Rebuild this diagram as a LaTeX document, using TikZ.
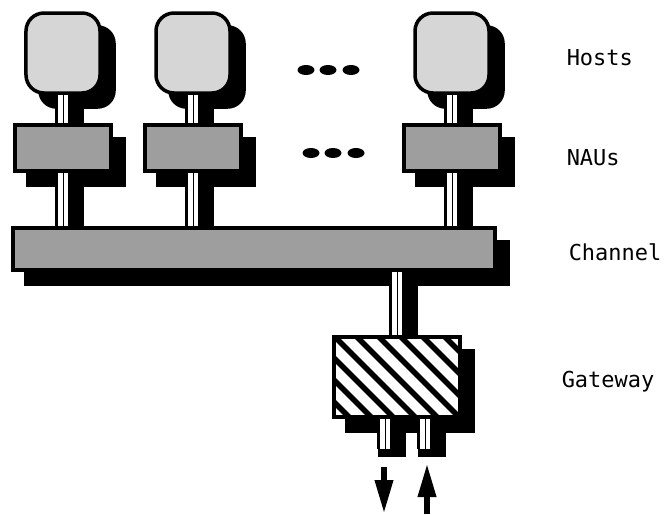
\documentclass[tikz,border=0pt]{standalone}
\usepackage{fontspec}
\newfontfamily\labelfont{DejaVu Sans Mono}
\usetikzlibrary{arrows.meta, positioning, calc, backgrounds}
\tikzset{
  every picture/.style={line width=0.7mm},
  host/.style={draw, fill=black!16, rounded corners=3.6mm, minimum width=14.8mm, minimum height=16mm, inner sep=0pt},
  nau/.style={draw, fill=black!38, minimum width=19.2mm, minimum height=9.2mm, inner sep=0pt},
  pipe/.style={draw=white, line width=2.1mm, preaction={draw=black, line width=3.1mm}, postaction={draw=black, line width=0.4pt}},
  flow/.style={-{Triangle[width=3.4mm, length=6.8mm]}, line width=1.3mm},
  lbl/.style={font=\labelfont\fontsize{12.5}{14}\selectfont, anchor=west, inner sep=0pt},
}

\begin{document}
\begin{tikzpicture}[x=0.2mm, y=-0.2mm]
  \useasboundingbox (0,0) rectangle (672,514);
  % hosts
  \node[host] (h1) at (63,53) {};
  \node[host] (h2) at (193,53) {};
  \node[host] (h3) at (452,53) {};
  % NAUs
  \node[nau] (n1) at (63,148) {};
  \node[nau] (n2) at (193,148) {};
  \node[nau] (n3) at (452,148) {};
  % channel
  \node[nau, minimum width=96.4mm, minimum height=8.4mm] (ch) at (254,249) {};
  % gateway, hatched
  \node[draw, fill=white, minimum width=25.2mm, minimum height=16mm, inner sep=0pt,
    path picture={
      \foreach \k in {-7,...,7}
        \draw[line width=1.1mm] ($(path picture bounding box.center)+(\k*22,0)$) +(-90,-90) -- +(90,90);
    }] (gw) at (397,377) {};
  \coordinate (p1) at ($(gw.south)+(-12,30)$);
  \coordinate (p2) at ($(gw.south)+(28,30)$);
  % more ...
  \foreach \x in {306,328,351} \fill (\x,70) ellipse (1.7mm and 1mm);
  \foreach \x in {311,333,356} \fill (\x,153) ellipse (1.7mm and 1mm);
  % shadows and pipes behind
  \begin{scope}[on background layer]
    \foreach \n in {h1,h2,h3}
      \fill[rounded corners=3.6mm] ($(\n.south west)+(14,14)$) rectangle ($(\n.north east)+(14,14)$);
    \foreach \n in {n1,n2,n3,ch,gw}
      \fill ($(\n.south west)+(13,14)$) rectangle ($(\n.north east)+(13,14)$);
    \foreach \n in {n1,n2,n3}
      \draw[line width=3.1mm] ($(\n.south)+(13,14)$) -- ($(\n.south |- ch.north)+(13,14)$);
    \foreach \n in {h1,h2,h3}
      \draw[line width=3.1mm] ($(\n.south)+(13,14)$) -- ($(\n.south |- n1.north)+(13,14)$);
    \draw[line width=3.1mm] ($(gw.north |- ch.south)+(13,14)$) -- ($(gw.north)+(13,14)$);
    \foreach \p in {p1,p2}
      \fill ($(\p |- gw.south)+(-7,0)$) rectangle ($(\p)+(21,8)$);
    % pipes
    \draw[pipe] (h1) -- (n1);
    \draw[pipe] (h2) -- (n2);
    \draw[pipe] (h3) -- (n3);
    \foreach \n in {n1,n2,n3}
      \draw[pipe] (\n) -- (\n |- ch.north);
    \draw[pipe] (gw.north |- ch.south) -- (gw);
    \draw[pipe] (p1 |- gw.south) -- (p1);
    \draw[pipe] (p2 |- gw.south) -- (p2);
  \end{scope}
  % in and out of the gateway
  \coordinate (outtop) at (384,467);
  \coordinate (outend) at (384,514);
  \coordinate (inbot) at (427,514);
  \coordinate (inend) at (427,463);
  \draw[flow] (outtop) -- (outend);
  \draw[flow] (inbot) -- (inend);
  % labels
  \node[lbl] (lhosts) at (565,58) {Hosts};
  \node[lbl] (lnaus) at (565,158) {NAUs};
  \node[lbl] (lchan) at (567,252) {Channel};
  \node[lbl] (lgw) at (560,382) {Gateway};
\end{tikzpicture}
\end{document}
